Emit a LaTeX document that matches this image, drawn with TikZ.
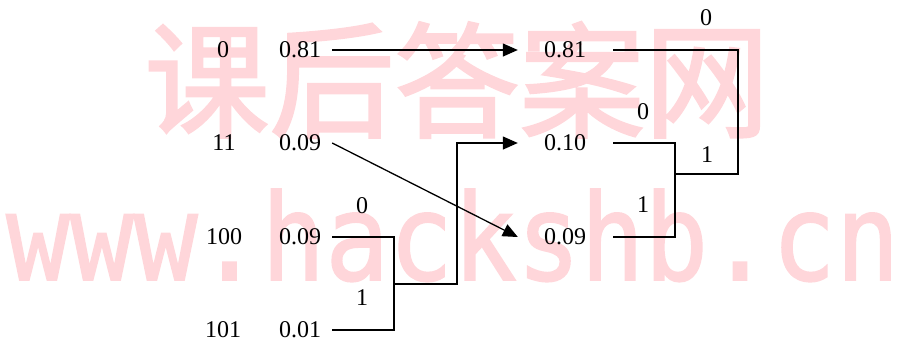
\documentclass[tikz,border=0pt]{standalone}
\usepackage{fontspec}
\setmainfont{Liberation Serif}
\newfontfamily\cjk[FakeBold=2]{Noto Sans CJK SC}
\newfontfamily\wmfont[FakeBold=1.5]{DejaVu Sans Mono}
\usetikzlibrary{arrows.meta}
\definecolor{wmpink}{RGB}{255,214,218}

\begin{document}
\begin{tikzpicture}[x=1pt,y=-1pt,
    lbl/.style={font=\fontsize{24}{28}\selectfont, inner sep=0pt},
    wm/.style={text=wmpink, inner sep=0pt},
    link/.style={line width=1.3pt},
    arr/.style={line width=1.3pt, -{Triangle[length=15pt,width=13pt]}}]
    \useasboundingbox (0,0) rectangle (899,346);
    \node[wm, font=\cjk\fontsize{125}{125}\selectfont] (wmcn) at (457,80) {课后答案网};
    \node[wm, font=\wmfont\fontsize{106}{106}\selectfont, anchor=base west] (wmurl) at (6,280) {\scalebox{1}[1.13]{www.hackshb.cn}};
    \node[lbl] (c1) at (223,50) {0};
    \node[lbl] (c2) at (224,143) {11};
    \node[lbl] (c3) at (224,237) {100};
    \node[lbl] (c4) at (223,330) {101};
    \node[lbl] (p1) at (300,50) {0.81};
    \node[lbl] (p2) at (300,143) {0.09};
    \node[lbl] (p3) at (300,237) {0.09};
    \node[lbl] (p4) at (300,330) {0.01};
    \node[lbl] (q1) at (565,50) {0.81};
    \node[lbl] (q2) at (565,143) {0.10};
    \node[lbl] (q3) at (565,237) {0.09};
    \node[lbl] (b1) at (362,206) {0};
    \node[lbl] (b2) at (362,298) {1};
    \node[lbl] (b3) at (643,112) {0};
    \node[lbl] (b4) at (643,205) {1};
    \node[lbl] (b5) at (706,18) {0};
    \node[lbl] (b6) at (707,155) {1};
    \coordinate (m1) at (394,284);
    \coordinate (t1) at (457,143);
    \coordinate (m2) at (675,174);
    \coordinate (m3) at (738,174);
    \draw[arr] ([xshift=11pt]p1.east) -- ([xshift=-26pt]q1.west);
    \draw[arr] ([xshift=11pt]p2.east) -- ([xshift=-26pt]q3.west);
    \draw[link] ([xshift=11pt]p3.east) -| (m1 |- p4) -- ([xshift=11pt]p4.east);
    \draw[arr] (m1) -| (t1) -- ([xshift=-26pt]q2.west);
    \draw[link] ([xshift=27pt]q2.east) -| (m2 |- q3) -- ([xshift=27pt]q3.east);
    \draw[link] ([xshift=27pt]q1.east) -| (m3) -- (m2);
\end{tikzpicture}
\end{document}
